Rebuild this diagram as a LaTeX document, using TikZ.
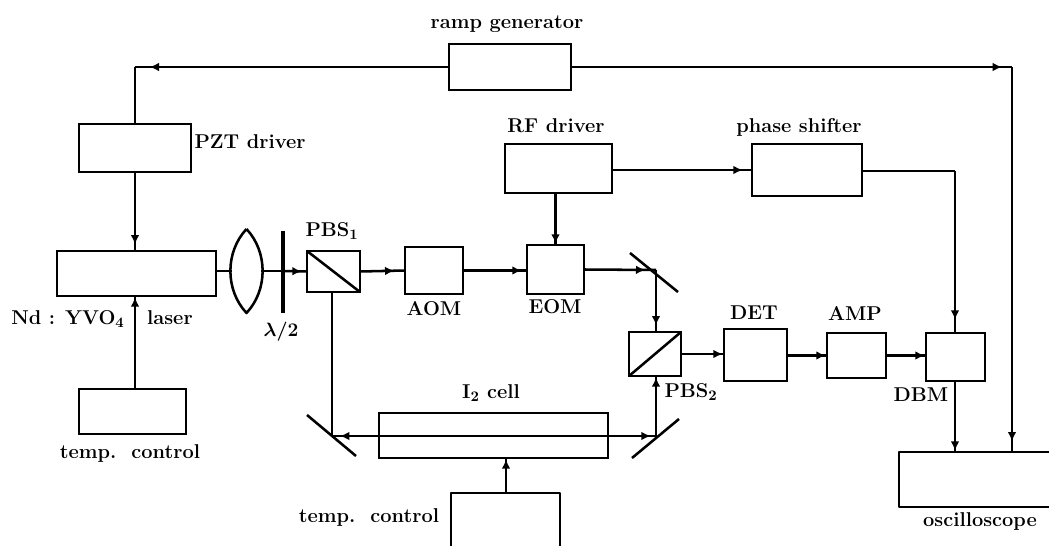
\documentclass[tikz,border=0pt]{standalone}
\usetikzlibrary{arrows.meta,decorations.markings}
\tikzset{
  ln/.style={line width=1.9pt,black,line join=round},
  bx/.style={draw=black,line width=1.9pt,fill=white,inner sep=0pt,outer sep=0pt},
  gh/.style={inner sep=0pt,outer sep=0pt},
  lbl/.style={inner sep=0pt,font=\fontsize{15}{17}\selectfont\bfseries\boldmath},
  arr/.style={postaction={decorate},decoration={markings,mark=at position #1 with {\arrow{Latex[length=7pt,width=6.5pt]}}}}
}
\newcommand{\pxbox}[6][bx]{\node[#1,minimum width={(#5-#3)*0.75pt},minimum height={(#6-#4)*0.75pt}] (#2) at ({(#3+#5)/2},{(#4+#6)/2}) {};}
\begin{document}
\begin{tikzpicture}[x=0.75pt,y=-0.75pt]
\useasboundingbox (0,0) rectangle (1049,546);
\fill[white] (0,0) rectangle (1049,546);
% boxes
\pxbox{ramp}{449}{44}{571}{90}
\pxbox{pzt}{79}{124}{191}{172}
\pxbox{rf}{505}{144}{612}{193}
\pxbox{phase}{752}{144}{862}{196}
\pxbox{laser}{57}{251}{216}{296}
\pxbox{pbsA}{307}{251}{360}{292}
\pxbox{aom}{405}{247}{463}{294}
\pxbox{eom}{527}{245}{584}{294}
\pxbox{det}{724}{329}{787}{381}
\pxbox{amp}{827}{333}{886}{378}
\pxbox{dbm}{926}{333}{985}{381}
\pxbox{pbsB}{629}{332}{681}{376}
\pxbox{cell}{379}{413}{608}{458}
\pxbox{tempA}{79}{389}{186}{434}
\pxbox[gh]{tempB}{451}{493}{560}{546}
\pxbox[gh]{osc}{899}{452}{1049}{507}
\pxbox[gh]{lens}{232}{229}{261}{313}
\draw[ln] (tempB.south west) |- (tempB.north east) -- (tempB.south east);
\draw[ln] (osc.north east) -- (osc.north west) -- (osc.south west) -- (osc.south east);
% splitter diagonals
\draw[ln] (pbsA.north west) -- (pbsA.south east);
\draw[ln] (pbsB.south west) -- (pbsB.north east);
% lens and plate
\coordinate (lensLa) at (225,252);
\coordinate (lensLb) at (225,290);
\coordinate (lensRa) at (268,252);
\coordinate (lensRb) at (268,290);
\draw[ln] (lens.north) .. controls (lensLa) and (lensLb) .. (lens.south) .. controls (lensRb) and (lensRa) .. (lens.north);
\coordinate (plate) at (283,271);
\coordinate (plateT) at (283,231);
\coordinate (plateB) at (283,313);
\draw[line width=3.6pt] (plateT) -- (plateB);
% mirrors
\coordinate (mA) at (656,270);
\coordinate (mAa) at (630,253);
\coordinate (mAb) at (678,292);
\coordinate (mB) at (332,436);
\coordinate (mBa) at (307,415);
\coordinate (mBb) at (356,456);
\coordinate (mC) at (656,436);
\coordinate (mCa) at (632,458);
\coordinate (mCb) at (679,419);
\draw[ln] (mAa) -- (mAb);
\draw[ln] (mBa) -- (mBb);
\draw[ln] (mCa) -- (mCb);
% corners
\coordinate (cL) at (135,67);
\coordinate (cR) at (1012,67);
\coordinate (cD) at (955,171);
% connectors
\draw[ln,arr=-11pt] (ramp.west) -- (cL);
\draw[ln] (cL) -- (cL|-pzt.north);
\draw[ln,arr=-5pt] (pzt.south) -- (pzt.south|-laser.north);
\draw[ln,arr=-1pt] (pzt.south|-tempA.north) -- (pzt.south|-laser.south);
\draw[ln,arr=-7.5pt] (ramp.east) -- (cR);
\draw[ln,arr=-8pt] (cR) -- (cR|-osc.north);
\draw[ln,arr=-7pt] (rf.east|-phase.west) -- (phase.west);
\draw[ln] (phase.east|-cD) -- (cD);
\draw[ln,arr=-10pt] (cD) -- (cD|-dbm.north);
\draw[ln,arr=-1pt] (eom.north|-rf.south) -- (eom.north);
\draw[ln] (laser.east|-lens.west) -- (lens.west);
\draw[ln] (lens.east) -- (plate);
\draw[ln,arr=-4pt] (plate) -- (pbsA.west);
\draw[ln,arr=-8pt] (pbsA.east) -- (aom.west);
\draw[ln,arr=-4pt] (aom.east) -- (eom.west|-aom.east);
\draw[ln,arr=-8pt] (eom.east) -- (mA);
\draw[ln,arr=-5pt] (mA) -- (mA|-pbsB.north);
\draw[ln] (mB|-pbsA.south) -- (mB);
\draw[ln,arr=-6pt] (mC) -- (mB);
\draw[ln,arr=-4pt] (mB) -- (mC);
\draw[ln,arr=-1pt] (mC) -- (mC|-pbsB.south);
\draw[ln,arr=-1pt] (pbsB.east) -- (det.west|-pbsB.east);
\draw[ln,arr=-1pt] (det.east|-amp.west) -- (amp.west);
\draw[ln,arr=-1pt] (amp.east) -- (dbm.west|-amp.east);
\draw[ln,arr=-1pt] (cD|-dbm.south) -- (cD|-osc.north);
\coordinate (tB) at (506,493);
\draw[ln,arr=-1pt] (tB) -- (tB|-cell.south);
% labels
\node[lbl] (tRamp) at (507,24) {ramp generator};
\node[lbl] (tPzt) at (250,142) {PZT driver};
\node[lbl] (tRf) at (556,126) {RF driver};
\node[lbl] (tPhase) at (799,127) {phase shifter};
\node[lbl] (tPbsA) at (332,231) {PBS$_{1}$};
\node[lbl] (tLam) at (281,332) {$\lambda/2$};
\node[lbl] (tAom) at (434,309) {AOM};
\node[lbl] (tEom) at (555,307) {EOM};
\node[lbl] (tDet) at (754,313) {DET};
\node[lbl] (tAmp) at (855,313) {AMP};
\node[lbl] (tDbm) at (921,395) {DBM};
\node[lbl] (tPbsB) at (691,392) {PBS$_{2}$};
\node[lbl] (tCell) at (491,393) {I$_{2}$ cell};
\node[lbl] (tTempB) at (369,517) {temp.\ \ control};
\node[lbl] (tTempA) at (130,453) {temp.\ \ control};
\node[lbl] (tLaser) at (102,319) {Nd : YVO$_{4}$\hspace{17pt}laser};
\node[lbl] (tOsc) at (980,521) {oscilloscope};
\end{tikzpicture}
\end{document}
